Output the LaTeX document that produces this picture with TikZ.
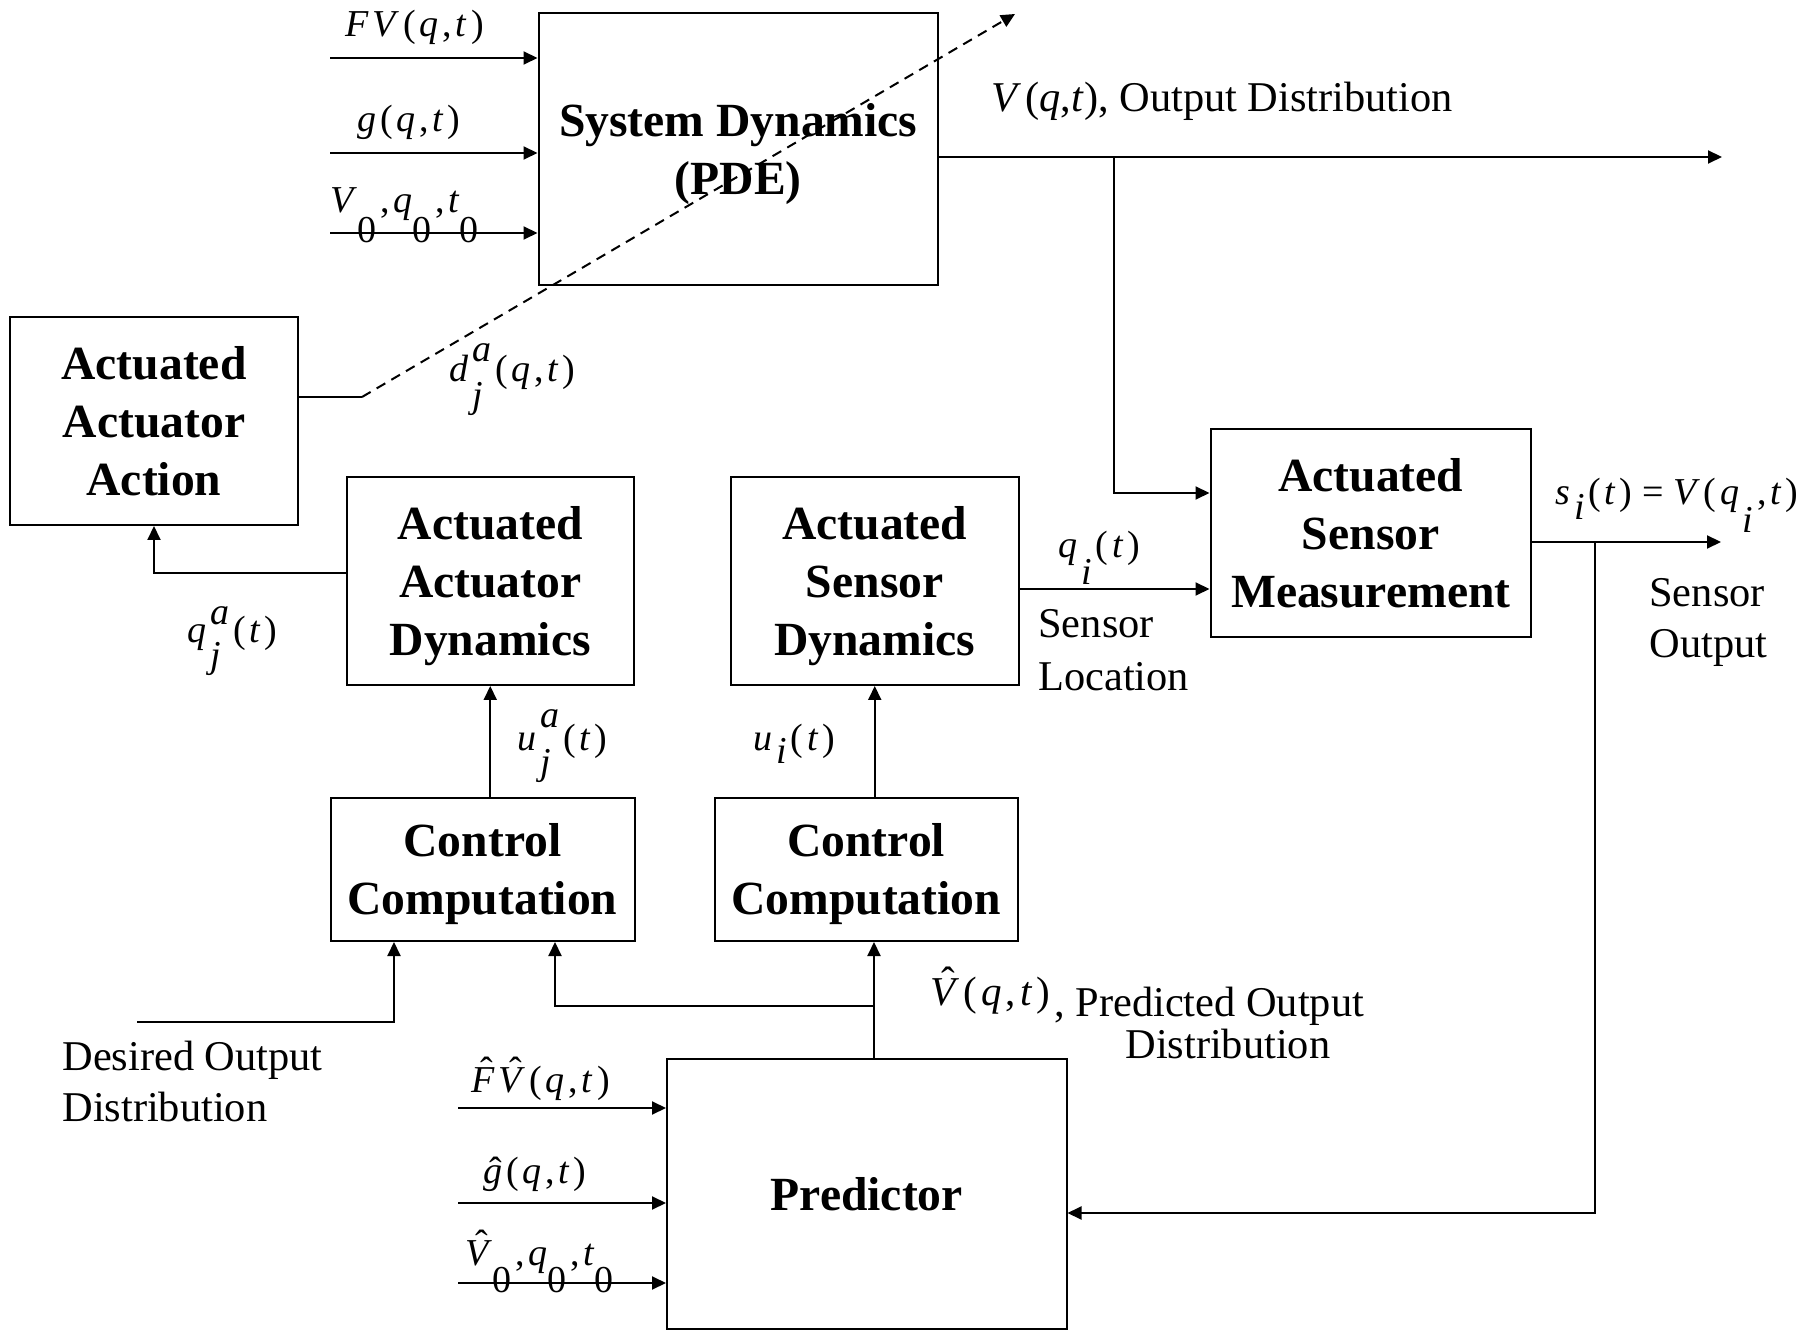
\documentclass[tikz,border=0pt]{standalone}
\usepackage{fontspec}
\setmainfont{Liberation Serif}
\usetikzlibrary{arrows.meta}

% italic symbols, spacing and raised/lowered indices for the formula labels
\newcommand\mi[1]{\textit{#1}}
\newcommand\gp{\kern0.1em}
\newcommand\dn[2]{\raisebox{-#1}{#2}}
\newcommand\updn[4]{\ooalign{\raisebox{#1}{#2}\cr\raisebox{-#3}{#4}\cr}}
\newcommand\hatit[2]{\ooalign{\mi{#2}\cr\hidewidth\kern0.18em\raisebox{#1}{\char"02C6}\hidewidth\cr}}

\tikzset{
  blk/.style={draw, line width=1pt, inner sep=0pt, align=center, text depth=0pt,
              font=\fontsize{23.8}{29}\selectfont\bfseries},
  ln/.style={line width=1pt},
  arr/.style={line width=1pt, -{Triangle[length=7pt,width=6.5pt]}},
  txt/.style={inner sep=0pt, anchor=base west, font=\fontsize{21.2}{25.5}\selectfont},
  mth/.style={inner sep=0pt, anchor=base west, font=\fontsize{19}{22}\selectfont},
  mthb/.style={inner sep=0pt, anchor=base west, font=\fontsize{20.5}{24}\selectfont},
}

\begin{document}
\begin{tikzpicture}[x=0.5pt,y=-0.5pt]
\useasboundingbox (0,0) rectangle (1816,1331);

% ---------- blocks ----------
\node[blk, minimum width=199.75pt, minimum height=135.75pt] (sd)   at (738.25,149.25) {System Dynamics\\(PDE)};
\node[blk, minimum width=144pt,    minimum height=103.75pt] (aaa)  at (154,421.25)    {Actuated\\Actuator\\Action};
\node[blk, minimum width=143.75pt, minimum height=104pt]    (aad)  at (490.25,581)    {Actuated\\Actuator\\Dynamics};
\node[blk, minimum width=143.75pt, minimum height=104pt]    (asd)  at (874.75,581)    {Actuated\\Sensor\\Dynamics};
\node[blk, minimum width=160.25pt, minimum height=103.75pt] (asm)  at (1370.75,533.25) {Actuated\\Sensor\\Measurement};
\node[blk, minimum width=152pt,    minimum height=71.75pt]  (ccl)  at (482.5,869.25)  {Control\\Computation};
\node[blk, minimum width=151.75pt, minimum height=71.75pt]  (ccr)  at (866.25,869.25) {Control\\Computation};
\node[blk, minimum width=199.75pt, minimum height=135pt]    (pred) at (866.75,1194)   {Predictor};

% ---------- plant inputs ----------
\coordinate (fvin) at (330,58);
\coordinate (gin)  at (330,153);
\coordinate (v0in) at (330,233);
\draw[arr] (fvin) -- (fvin -| sd.west);
\draw[arr] (gin)  -- (gin -| sd.west);
\draw[arr] (v0in) -- (v0in -| sd.west);

% ---------- plant output ----------
\coordinate (vout)   at (1722,157);
\coordinate (vtap)   at (1114,157);
\coordinate (asmin)  at (1210,493);
\draw[arr] (sd.east |- vout) -- (vout);
\draw[arr] (vtap) |- (asm.west |- asmin);

% ---------- sensor location and output ----------
\coordinate (qiy)  at (1100,589);
\draw[arr] (asd.east |- qiy) -- (asm.west |- qiy);
\coordinate (sout) at (1721,542);
\coordinate (stap) at (1595,542);
\coordinate (fby)  at (1100,1213);
\draw[arr] (asm.east |- sout) -- (sout);
\draw[arr] (stap) |- (pred.east |- fby);

% ---------- actuator action acting on the plant ----------
\coordinate (dknee) at (362,397);
\coordinate (dtip)  at (1015,14);
\draw[ln] (aaa.east |- dknee) -- (dknee);
\draw[arr, dash pattern=on 5pt off 3.5pt] (dknee) -- (dtip);

% ---------- actuator position ----------
\coordinate (qay) at (300,573);
\draw[arr] (aad.west |- qay) -| (aaa.south);

% ---------- control signals ----------
\draw[arr] (aad.south |- ccl.north) -- (aad.south);
\draw[arr] (asd.south |- ccr.north) -- (asd.south);

% ---------- desired output ----------
\coordinate (des)  at (137,1022);
\coordinate (desx) at (394,1000);
\draw[arr] (des) -| (ccl.south -| desx);

% ---------- predicted output ----------
\coordinate (vhx)   at (874,1000);
\coordinate (vhtap) at (874,1006);
\coordinate (vhx2)  at (555,1000);
\draw[arr] (pred.north -| vhx) -- (ccr.south -| vhx);
\draw[arr] (vhtap) -| (ccl.south -| vhx2);

% ---------- predictor inputs ----------
\coordinate (p1) at (458,1108);
\coordinate (p2) at (458,1203);
\coordinate (p3) at (458,1283);
\draw[arr] (p1) -- (p1 -| pred.west);
\draw[arr] (p2) -- (p2 -| pred.west);
\draw[arr] (p3) -- (p3 -| pred.west);

% ---------- labels ----------
\node[mth] (lfv) at (345,37)  {\mi{F}\gp\mi{V}\gp(\gp\mi{q}\gp,\gp\mi{t}\gp)};
\node[mth] (lg)  at (357,132) {\mi{g}\gp(\gp\mi{q}\gp,\gp\mi{t}\gp)};
\node[mth] (lv0) at (330,213) {\mi{V}\dn{15pt}{0}\gp,\gp\mi{q}\dn{15pt}{0}\gp,\gp\mi{t}\dn{15pt}{0}};

\node[txt] (lv) at (991,112) {\mi{V}\gp(\mi{q},\mi{t}), Output Distribution};

\node[mth] (ld)  at (449,382) {\mi{d}\gp\updn{10pt}{\mi{a}}{13pt}{\mi{j}}\gp(\gp\mi{q}\gp,\gp\mi{t}\gp)};
\node[mth] (lqa) at (187,643) {\mi{q}\gp\updn{9pt}{\mi{a}}{12.5pt}{\mi{j}}\gp(\gp\mi{t}\gp)};
\node[mth] (lua) at (517,750) {\mi{u}\gp\updn{11pt}{\mi{a}}{12.5pt}{\mi{j}}\gp(\gp\mi{t}\gp)};
\node[mth] (lui) at (753,750) {\mi{u}\gp\dn{6.5pt}{\mi{i}}\gp(\gp\mi{t}\gp)};
\node[mth] (lqi) at (1058,558) {\mi{q}\gp\dn{13.5pt}{\mi{i}}\gp(\gp\mi{t}\gp)};
\node[mth] (lsi) at (1555,505) {\mi{s}\gp\dn{7.5pt}{\mi{i}}\gp(\gp\mi{t}\gp)\kern0.25em=\kern0.25em\mi{V}\gp(\gp\mi{q}\gp\dn{14pt}{\mi{i}}\gp,\gp\mi{t}\gp)};

\node[txt] (lsl1) at (1038,638) {Sensor};
\node[txt] (lsl2) at (1038,690) {Location};
\node[txt] (lso1) at (1649,607) {Sensor};
\node[txt] (lso2) at (1649,658) {Output};

\node[mthb] (lvh) at (930,1005) {\hatit{0.22em}{V}\gp(\gp\mi{q}\gp,\gp\mi{t}\gp)};
\node[txt] (lpo1) at (1054,1016) {, Predicted Output};
\node[txt] (lpo2) at (1125,1058) {Distribution};

\node[txt] (ldo1) at (62,1070) {Desired Output};
\node[txt] (ldo2) at (62,1121) {Distribution};

\node[mth] (lfvh) at (471,1092) {\hatit{0.22em}{F}\gp\hatit{0.22em}{V}\gp(\gp\mi{q}\gp,\gp\mi{t}\gp)};
\node[mth] (lgh)  at (483,1183) {\hatit{0em}{g}\gp(\gp\mi{q}\gp,\gp\mi{t}\gp)};
\node[mth] (lv0h) at (465,1265) {\hatit{0.22em}{V}\dn{13.5pt}{0}\gp,\gp\mi{q}\dn{13.5pt}{0}\gp,\gp\mi{t}\dn{13.5pt}{0}};
\end{tikzpicture}
\end{document}
